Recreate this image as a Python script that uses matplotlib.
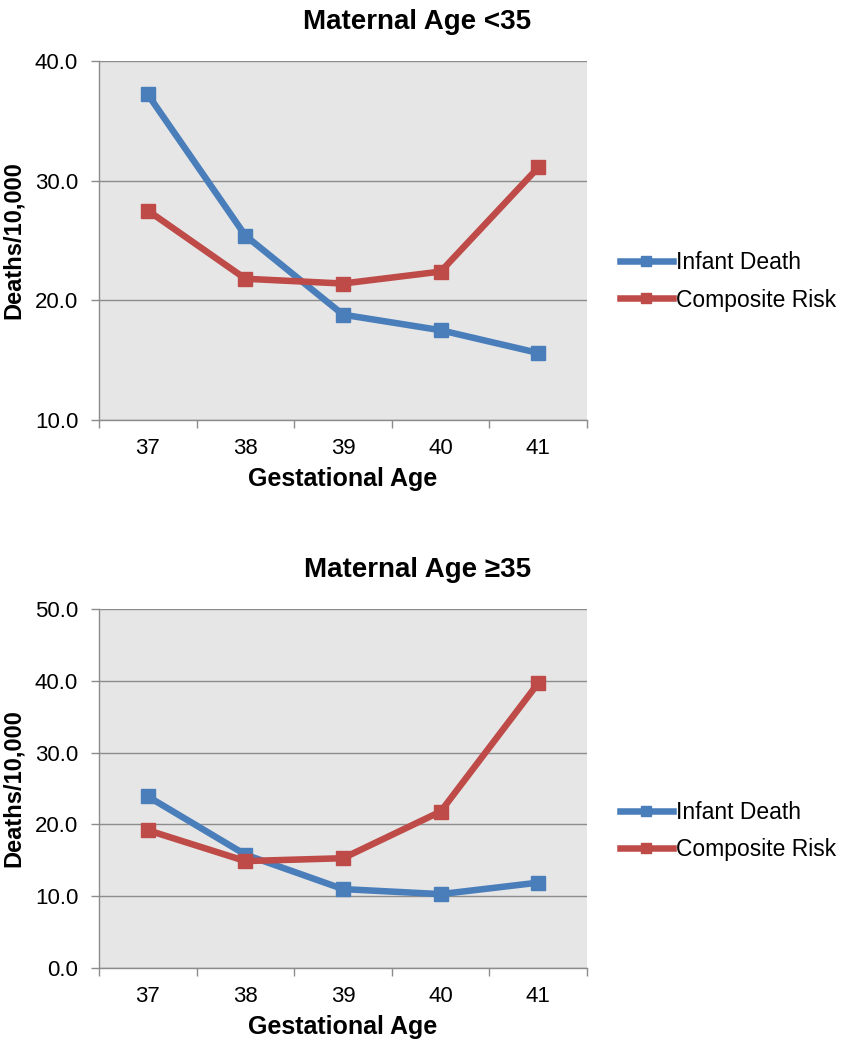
import matplotlib
matplotlib.use("Agg")
import matplotlib.pyplot as plt
import numpy as np

plt.rcParams['font.family'] = ['Liberation Sans', 'DejaVu Sans']

gest_age = ["37", "38", "39", "40", "41"]
series_names = ["Infant Death", "Composite Risk"]

young_infant = [37.2, 25.4, 18.8, 17.5, 15.6]
young_composite = [27.5, 21.8, 21.4, 22.4, 31.1]
old_infant = [23.9, 15.8, 11.0, 10.3, 11.9]
old_composite = [19.2, 14.9, 15.3, 21.8, 39.7]

titles = ["Maternal Age <35", "Maternal Age \u226535"]
ylims = [(10, 40), (0, 50)]
ytick_sets = [[10, 20, 30, 40], [0, 10, 20, 30, 40, 50]]

blue = "#4A7EBB"
red = "#BE4B48"
bg = "#E6E6E6"
grid_c = "#8C8C8C"

fig = plt.figure(figsize=(8.46, 10.5), dpi=100)

panels = [
    (young_infant, young_composite),
    (old_infant, old_composite),
]
positions = [[0.117, 0.600, 0.577, 0.342], [0.117, 0.078, 0.577, 0.342]]
title_y = [0.979, 0.457]
legend_y = [0.732, 0.2086]

for i, (inf, comp) in enumerate(panels):
    ax = fig.add_axes(positions[i])
    ax.set_facecolor(bg)
    x = np.arange(len(gest_age))
    l1, = ax.plot(x, inf, color=blue, lw=4.7, marker='s', ms=10, label=series_names[0], zorder=3)
    l2, = ax.plot(x, comp, color=red, lw=4.7, marker='s', ms=10, label=series_names[1], zorder=3)
    ax.set_xlim(-0.5, len(gest_age) - 0.5)
    ax.set_ylim(*ylims[i])
    ax.set_yticks(ytick_sets[i])
    ax.set_yticklabels([f"{v:.1f}" for v in ytick_sets[i]], fontsize=16)
    ax.set_xticks(x)
    ax.set_xticklabels(gest_age, fontsize=16)
    ax.set_xticks(np.arange(-0.5, len(gest_age)), minor=True)
    ax.tick_params(axis='x', which='major', length=0, pad=13)
    ax.tick_params(axis='x', which='minor', length=6, color=grid_c, width=1)
    ax.tick_params(axis='y', length=6, color=grid_c, width=1, pad=9)
    ax.grid(axis='y', color=grid_c, lw=1, zorder=1)
    ax.set_axisbelow(True)
    for s in ['top', 'right']:
        ax.spines[s].set_visible(False)
    for s in ['left', 'bottom']:
        ax.spines[s].set_color(grid_c)
        ax.spines[s].set_linewidth(1)
    ax.set_ylabel("Deaths/10,000", fontsize=17, fontweight='bold', labelpad=7)
    ax.set_xlabel("Gestational Age", fontsize=18, fontweight='bold', labelpad=6)
    fig.text(0.493, title_y[i], titles[i], fontsize=20, fontweight='bold', ha='center', va='center')
    ax.legend(handles=[l1, l2], loc='center left', bbox_to_anchor=(0.733, legend_y[i]),
              bbox_transform=fig.transFigure, borderaxespad=0, borderpad=0,
              frameon=False, fontsize=16.5, handlelength=2.3, handletextpad=0.15,
              labelspacing=0.62, markerscale=0.7)

fig.savefig("out.png", dpi=100)
